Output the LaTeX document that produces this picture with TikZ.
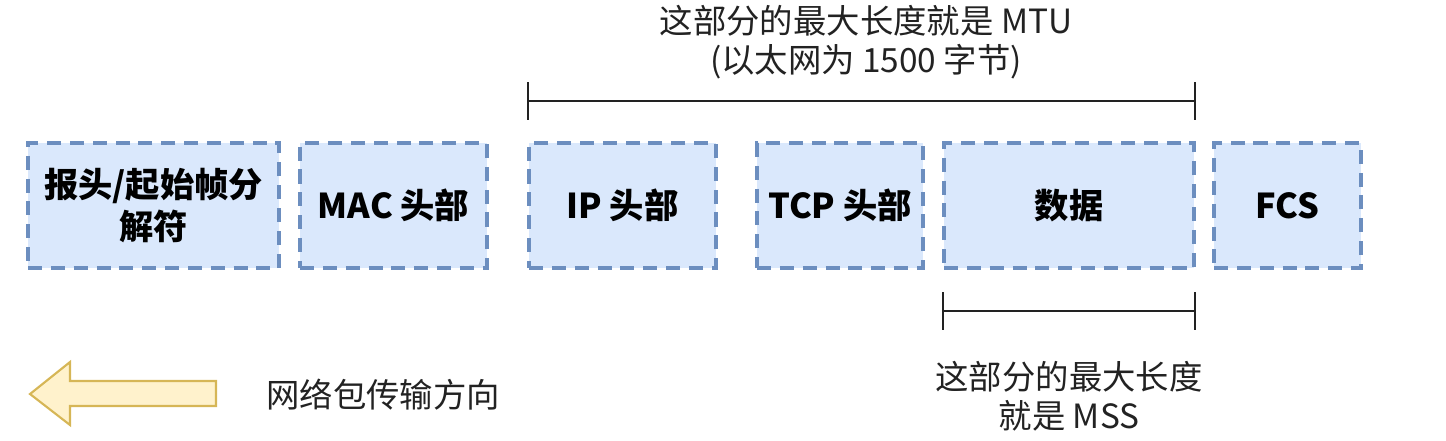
\documentclass[tikz,border=0pt]{standalone}
\usepackage{fontspec}
\setmainfont{Noto Sans CJK SC}
\usetikzlibrary{arrows.meta}

\definecolor{boxfill}{HTML}{DAE8FC}
\definecolor{boxline}{HTML}{6C8EBF}
\definecolor{arrfill}{HTML}{FFF2CC}
\definecolor{arrline}{HTML}{D6B656}
\definecolor{txt}{HTML}{222222}

\tikzset{bracket/.style={line width=1.1pt, draw=txt, {Bar[width=21.5pt]}-{Bar[width=21.5pt]}}}

\begin{document}
\begin{tikzpicture}[x=0.02cm,y=-0.02cm]
        \useasboundingbox (0,0) rectangle (1446,440);
        \begin{scope}[every node/.style={draw=boxline, fill=boxfill, line width=2pt, dash pattern=on 8pt off 5pt, minimum height=2.5cm, inner sep=1, align=center, font=\fontsize{19.5}{24}\selectfont\bfseries}]
                \node[minimum width=5.02cm] (pre) at (153.5,205.5) {报头/起始帧分\\解符};
                \node[minimum width=3.74cm] (mac) at (393.5,205.5) {MAC 头部};
                \node[minimum width=3.74cm] (ip) at (622.5,205.5) {IP 头部};
                \node[minimum width=3.32cm] (tcp) at (840,205.5) {TCP 头部};
                \node[minimum width=5.00cm] (data) at (1069,205.5) {数据};
                \node[minimum width=2.94cm] (fcs) at (1287.5,205.5) {FCS};
        \end{scope}
        \begin{scope}[every node/.style={text=txt, align=center, inner sep=0, font=\fontsize{19}{22.5}\selectfont}]
                \node (mtu) at (866,42) {这部分的最大长度就是 MTU\\(以太网为 1500 字节)};
                \node (mss) at (1069,396) {这部分的最大长度\\就是 MSS};
                \node[anchor=west] (dir) at (266,395) {网络包传输方向};
        \end{scope}
        \coordinate (mtuL) at (ip.west |- 0,101);
        \coordinate (mtuR) at (data.east |- 0,101);
        \coordinate (mssL) at (data.west |- 0,311);
        \coordinate (mssR) at (data.east |- 0,311);
        \draw[bracket] (mtuL) -- (mtuR);
        \draw[bracket] (mssL) -- (mssR);
        % direction arrow
        \draw[fill=arrfill, draw=arrline, line width=1.2pt, line join=miter]
                (30,394) -- (70,362) -- (70,381) -- (216,381) -- (216,406) -- (70,406) -- (70,425) -- cycle;
\end{tikzpicture}
\end{document}
